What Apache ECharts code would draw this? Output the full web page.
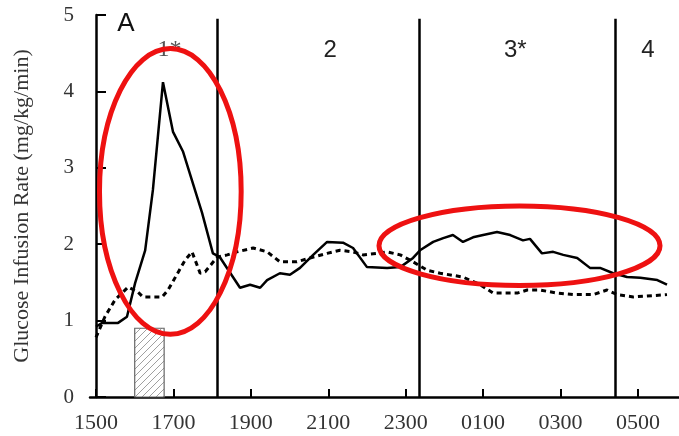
<!DOCTYPE html>
<html>
<head>
<meta charset="utf-8">
<script src="https://cdn.jsdelivr.net/npm/echarts@6/dist/echarts.min.js"></script>
<style>
  html, body { margin: 0; padding: 0; background: #fff; }
  #chart { width: 679px; height: 436px; }
</style>
</head>
<body>
<div id="chart"></div>
<script>
// hours since 15:00
var tickHours = [0, 2, 4, 6, 8, 10, 12, 14];
var tickLabels = ['1500', '1700', '1900', '2100', '2300', '0100', '0300', '0500'];

var solidHours = [0, 0.16, 0.57, 0.8, 1.01, 1.27, 1.47, 1.73, 1.99, 2.25, 2.74, 3.02, 3.2, 3.72, 3.98, 4.24, 4.42, 4.75, 5.01, 5.27, 5.61, 5.97, 6.38, 6.64, 7.0, 7.52, 7.86, 8.19, 8.37, 8.71, 8.97, 9.22, 9.48, 9.74, 10.0, 10.36, 10.7, 11.03, 11.21, 11.52, 11.81, 12.07, 12.43, 12.76, 13.02, 13.36, 13.72, 14.06, 14.5, 14.75];
var solidRate = [0.92, 0.97, 0.97, 1.05, 1.49, 1.92, 2.71, 4.12, 3.47, 3.21, 2.41, 1.88, 1.83, 1.43, 1.47, 1.43, 1.53, 1.62, 1.6, 1.69, 1.86, 2.03, 2.02, 1.95, 1.7, 1.69, 1.7, 1.82, 1.92, 2.03, 2.08, 2.12, 2.03, 2.09, 2.12, 2.16, 2.12, 2.05, 2.07, 1.88, 1.9, 1.86, 1.82, 1.69, 1.69, 1.62, 1.57, 1.56, 1.53, 1.47];

var dottedHours = [0, 0.23, 0.49, 0.83, 1.09, 1.21, 1.71, 1.86, 2.3, 2.48, 2.69, 2.82, 3.13, 3.39, 3.64, 4.06, 4.42, 4.75, 5.19, 5.53, 5.97, 6.3, 6.64, 6.9, 7.26, 7.52, 7.86, 8.19, 8.55, 8.89, 9.48, 9.92, 10.26, 10.88, 11.14, 11.47, 11.91, 12.33, 12.84, 13.2, 13.46, 13.88, 14.75];
var dottedRate = [0.78, 1.05, 1.27, 1.44, 1.37, 1.31, 1.31, 1.4, 1.79, 1.9, 1.62, 1.64, 1.83, 1.86, 1.9, 1.95, 1.9, 1.77, 1.77, 1.82, 1.88, 1.92, 1.9, 1.86, 1.88, 1.9, 1.86, 1.77, 1.66, 1.62, 1.57, 1.47, 1.36, 1.36, 1.4, 1.4, 1.36, 1.34, 1.34, 1.4, 1.34, 1.31, 1.34];

var phaseBounds = [3.13, 8.35, 13.42];
var phaseNames = ['1*', '2', '3*', '4'];
var phaseLabelHours = [1.9, 6.05, 10.83, 14.26];

// meal bar: start hour, end hour, height
var mealBar = [1.0, 1.76, 0.9];

// highlighted regions: centre hour, centre rate, half-width (h), half-height (rate)
var highlights = [[1.92, 2.69, 1.83, 1.87], [10.94, 1.98, 3.63, 0.52]];

function hatch() {
  var c = document.createElement('canvas');
  c.width = 7; c.height = 7;
  var g = c.getContext('2d');
  g.fillStyle = '#fff';
  g.fillRect(0, 0, 7, 7);
  g.strokeStyle = '#888';
  g.lineWidth = 0.8;
  g.beginPath();
  g.moveTo(0, 7); g.lineTo(7, 0);
  g.moveTo(-1, 1); g.lineTo(1, -1);
  g.moveTo(6, 8); g.lineTo(8, 6);
  g.stroke();
  return c;
}

function pairs(xs, ys) {
  return xs.map(function (x, i) { return [x, ys[i]]; });
}

var chart = echarts.init(document.getElementById('chart'));

var option = {
  animation: false,
  grid: { left: 90, right: 0, top: 15, bottom: 39, containLabel: false, outerBoundsMode: 'none' },
  xAxis: {
    type: 'value',
    min: -0.155,
    max: 15.06,
    axisLine: { lineStyle: { color: '#000', width: 2.5 } },
    axisTick: { inside: true, length: 8, customValues: tickHours, lineStyle: { color: '#000', width: 2 } },
    axisLabel: {
      customValues: tickHours,
      margin: 15,
      fontFamily: 'Liberation Serif',
      fontSize: 22,
      color: '#333',
      formatter: function (v) { return tickLabels[tickHours.indexOf(Math.round(v))]; }
    },
    splitLine: { show: false }
  },
  yAxis: {
    type: 'value',
    min: 0, max: 5, interval: 1,
    name: 'Glucose Infusion Rate (mg/kg/min)',
    nameLocation: 'middle',
    nameGap: 57,
    nameTextStyle: { fontFamily: 'Liberation Serif', fontSize: 22, color: '#333' },
    axisLine: { show: true, lineStyle: { color: '#000', width: 2.5 } },
    axisTick: { show: true, inside: true, length: 10, lineStyle: { color: '#000', width: 2 } },
    axisLabel: { margin: 16, fontFamily: 'Liberation Serif', fontSize: 21, color: '#333' },
    splitLine: { show: false }
  },
  series: [
    {
      type: 'line',
      data: pairs(dottedHours, dottedRate),
      symbol: 'none',
      lineStyle: { color: '#000', width: 3, type: [5, 4] },
      z: 3,
      markArea: {
        silent: true,
        itemStyle: { color: { image: hatch(), repeat: 'repeat' }, borderColor: '#666', borderWidth: 1.2 },
        data: [[{ coord: [mealBar[0], 0] }, { coord: [mealBar[1], mealBar[2]] }]]
      }
    },
    {
      type: 'line',
      data: pairs(solidHours, solidRate),
      symbol: 'none',
      lineStyle: { color: '#000', width: 2.5 },
      z: 4,
      markLine: {
        silent: true,
        symbol: 'none',
        label: { show: false },
        lineStyle: { color: '#000', width: 2.5, type: 'solid' },
        data: phaseBounds.map(function (h) {
          return [{ coord: [h, 0] }, { coord: [h, 4.95] }];
        })
      }
    }
  ]
};

chart.setOption(option);

var graphics = [];
phaseNames.forEach(function (t, i) {
  var p = chart.convertToPixel({ gridIndex: 0 }, [phaseLabelHours[i], 4.54]);
  graphics.push({
    type: 'text', x: p[0], y: p[1], z: 10,
    style: {
      text: t, align: 'center', verticalAlign: 'middle',
      font: i === 0 ? '24px "Liberation Serif"' : '24px "Liberation Sans"',
      fill: i === 0 ? '#555' : '#222'
    }
  });
});
graphics.push({
  type: 'text', x: 126, y: 24, z: 10,
  style: { text: 'A', align: 'center', verticalAlign: 'middle', font: '26px "Liberation Sans"', fill: '#111' }
});
highlights.forEach(function (e) {
  var c = chart.convertToPixel({ gridIndex: 0 }, [e[0], e[1]]);
  var r = chart.convertToPixel({ gridIndex: 0 }, [e[0] + e[2], e[1] + e[3]]);
  graphics.push({
    type: 'ellipse', z: 20,
    shape: { cx: c[0], cy: c[1], rx: Math.abs(r[0] - c[0]), ry: Math.abs(r[1] - c[1]) },
    style: { fill: null, stroke: '#ee1111', lineWidth: 5 }
  });
});
chart.setOption({ graphic: graphics });
</script>
</body>
</html>
